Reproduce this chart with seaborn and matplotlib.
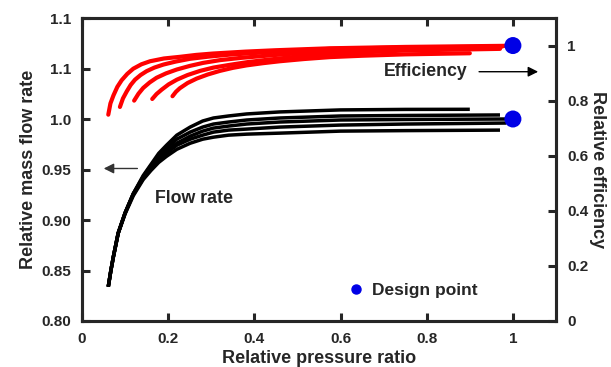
import numpy as np
import pandas as pd
import matplotlib
matplotlib.use("Agg")
import matplotlib.pyplot as plt
from matplotlib.lines import Line2D
import seaborn as sns

# ---- data -------------------------------------------------------------
# Relative mass flow rate vs relative pressure ratio (left axis), five speed lines
flow_x_common = [0.061, 0.067, 0.073, 0.084, 0.100, 0.119, 0.142, 0.160, 0.178, 0.196,
                 0.220, 0.251, 0.280, 0.305, 0.340, 0.382, 0.420, 0.459, 0.530, 0.600, 0.750]
flow_x_end = [0.900, 0.970, 0.985, 0.985, 0.970]
flow_y = [
    [0.834, 0.850, 0.864, 0.887, 0.907, 0.926, 0.944, 0.955, 0.966, 0.974, 0.984,
     0.992, 0.998, 1.001, 1.003, 1.005, 1.006, 1.007, 1.008, 1.009, 1.0095, 1.0096],
    [0.834, 0.850, 0.864, 0.887, 0.907, 0.926, 0.943, 0.954, 0.963, 0.971, 0.980,
     0.987, 0.992, 0.995, 0.997, 0.999, 1.000, 1.001, 1.002, 1.003, 1.0035, 1.004],
    [0.834, 0.850, 0.864, 0.887, 0.907, 0.926, 0.942, 0.953, 0.961, 0.968, 0.976,
     0.983, 0.988, 0.991, 0.993, 0.995, 0.996, 0.997, 0.998, 0.999, 0.9995, 1.000],
    [0.834, 0.850, 0.864, 0.887, 0.907, 0.925, 0.941, 0.951, 0.959, 0.966, 0.974,
     0.980, 0.984, 0.987, 0.989, 0.990, 0.991, 0.992, 0.993, 0.994, 0.995, 0.996],
    [0.834, 0.850, 0.864, 0.887, 0.906, 0.924, 0.940, 0.949, 0.957, 0.963, 0.970,
     0.976, 0.980, 0.982, 0.984, 0.985, 0.9855, 0.986, 0.987, 0.988, 0.9885, 0.989],
]

# Relative efficiency vs relative pressure ratio (right axis), five speed lines
eff_x = [
    [0.061, 0.066, 0.073, 0.082, 0.092, 0.105, 0.119, 0.138, 0.158, 0.190, 0.227,
     0.265, 0.304, 0.380, 0.450, 0.575, 0.750, 0.985],
    [0.088, 0.095, 0.104, 0.113, 0.123, 0.136, 0.150, 0.168, 0.189, 0.218, 0.251,
     0.295, 0.343, 0.450, 0.575, 0.750, 0.975],
    [0.121, 0.131, 0.142, 0.157, 0.173, 0.195, 0.220, 0.250, 0.281, 0.320, 0.367,
     0.450, 0.575, 0.750, 0.970],
    [0.163, 0.173, 0.185, 0.201, 0.220, 0.245, 0.274, 0.305, 0.343, 0.385, 0.428,
     0.500, 0.575, 0.750, 0.970],
    [0.210, 0.218, 0.227, 0.245, 0.266, 0.292, 0.320, 0.350, 0.382, 0.420, 0.459,
     0.515, 0.575, 0.650, 0.750, 0.900],
]
eff_y = [
    [0.749, 0.790, 0.819, 0.850, 0.874, 0.897, 0.916, 0.932, 0.943, 0.953, 0.959,
     0.966, 0.971, 0.978, 0.983, 0.990, 0.995, 0.999],
    [0.777, 0.808, 0.834, 0.857, 0.876, 0.893, 0.907, 0.920, 0.931, 0.942, 0.952,
     0.960, 0.967, 0.978, 0.988, 0.993, 0.996],
    [0.800, 0.825, 0.846, 0.866, 0.883, 0.899, 0.913, 0.926, 0.937, 0.947, 0.955,
     0.966, 0.980, 0.988, 0.993],
    [0.806, 0.824, 0.840, 0.859, 0.876, 0.893, 0.908, 0.920, 0.930, 0.940, 0.948,
     0.960, 0.970, 0.982, 0.988],
    [0.816, 0.832, 0.845, 0.864, 0.880, 0.895, 0.908, 0.919, 0.928, 0.936, 0.943,
     0.951, 0.958, 0.963, 0.968, 0.972],
]

design_x = [1.0]
design_flow = [1.0]
design_eff = [1.0]

x_ticks = [0, 0.2, 0.4, 0.6, 0.8, 1.0]
x_tick_labels = ["0", "0.2", "0.4", "0.6", "0.8", "1"]
flow_ticks = [0.80, 0.85, 0.90, 0.95, 1.00, 1.05, 1.10]
flow_tick_labels = ["0.80", "0.85", "0.90", "0.95", "1.0", "1.1", "1.1"]
eff_ticks = [0, 0.2, 0.4, 0.6, 0.8, 1.0]
eff_tick_labels = ["0", "0.2", "0.4", "0.6", "0.8", "1"]

# ---- long-form tables -------------------------------------------------
flow_rows = []
for i, (ys, xe) in enumerate(zip(flow_y, flow_x_end)):
    xs = flow_x_common + [xe]
    flow_rows += [(i, x, y) for x, y in zip(xs, ys)]
flow_df = pd.DataFrame(flow_rows, columns=["line", "pressure_ratio", "flow"])

eff_df = pd.DataFrame(
    [(i, x, y) for i, (xs, ys) in enumerate(zip(eff_x, eff_y)) for x, y in zip(xs, ys)],
    columns=["line", "pressure_ratio", "efficiency"],
)

# ---- style ------------------------------------------------------------
sns.set_style("ticks")
plt.rcParams["font.family"] = ["Liberation Sans", "DejaVu Sans"]
plt.rcParams["font.weight"] = "bold"
plt.rcParams["axes.labelweight"] = "bold"

fig = plt.figure(figsize=(6.11, 3.67), dpi=100)
ax = fig.add_axes([82 / 611, 1 - 321 / 367, (556 - 82) / 611, (321 - 18) / 367])
ax2 = ax.twinx()

BLUE = "#0000e6"

# flow rate curves (black, left axis)
sns.lineplot(data=flow_df, x="pressure_ratio", y="flow", units="line",
             estimator=None, sort=False, color="black", lw=2.5,
             solid_capstyle="butt", solid_joinstyle="round", ax=ax, legend=False)
# efficiency curves (red, right axis)
sns.lineplot(data=eff_df, x="pressure_ratio", y="efficiency", units="line",
             estimator=None, sort=False, color="#ff0000", lw=3.0,
             solid_capstyle="round", solid_joinstyle="round", ax=ax2, legend=False)

# design point markers
sns.scatterplot(x=design_x, y=design_flow, color=BLUE, s=150, edgecolor="none",
                ax=ax, zorder=5, legend=False)
sns.scatterplot(x=design_x, y=design_eff, color=BLUE, s=150, edgecolor="none",
                ax=ax2, zorder=5, legend=False)

# ---- axes -------------------------------------------------------------
ax.set_xlim(0, 1.1)
ax.set_ylim(0.80, 1.10)
ax2.set_ylim(0, 1.1)

ax.set_xticks(x_ticks)
ax.set_xticklabels(x_tick_labels)
ax.set_yticks(flow_ticks)
ax.set_yticklabels(flow_tick_labels)
ax2.set_yticks(eff_ticks)
ax2.set_yticklabels(eff_tick_labels)

tick_kw = dict(direction="in", length=6, width=2.2, labelsize=11, pad=8)
ax.tick_params(axis="x", top=True, **tick_kw)
ax.tick_params(axis="y", right=False, **tick_kw)
ax2.tick_params(axis="y", **tick_kw)
for a in (ax, ax2):
    for s in a.spines.values():
        s.set_linewidth(2.2)
        s.set_visible(True)
    for lab in a.get_xticklabels() + a.get_yticklabels():
        lab.set_fontweight("bold")

ax.set_xlabel("Relative pressure ratio", fontsize=13, fontweight="bold", labelpad=3)
ax.set_ylabel("Relative mass flow rate", fontsize=13, fontweight="bold", labelpad=3)
ax2.set_ylabel("Relative efficiency", fontsize=13, fontweight="bold",
               rotation=270, labelpad=13)

# ---- annotations ------------------------------------------------------
ax2.annotate("", xy=(1.065, 0.905), xytext=(0.915, 0.905),
             arrowprops=dict(arrowstyle="-|>", color="black", lw=1.0,
                             mutation_scale=15))
ax2.text(0.700, 0.905, "Efficiency", fontsize=12.8, fontweight="bold",
         ha="left", va="center")

ax.annotate("", xy=(0.044, 0.951), xytext=(0.135, 0.951),
            arrowprops=dict(arrowstyle="-|>", color="#333333", lw=1.0,
                            mutation_scale=15))
ax.text(0.169, 0.921, "Flow rate", fontsize=12.8, fontweight="bold",
        ha="left", va="center")

handle = Line2D([], [], marker="o", ls="", color=BLUE, markersize=6.5)
ax.legend([handle], ["Design point"], loc="center left",
          bbox_to_anchor=(0.534, 0.102), frameon=False, handlelength=0.6,
          handletextpad=0.6, prop=dict(size=12.5, weight="bold"))

fig.savefig("out.png", dpi=100)
